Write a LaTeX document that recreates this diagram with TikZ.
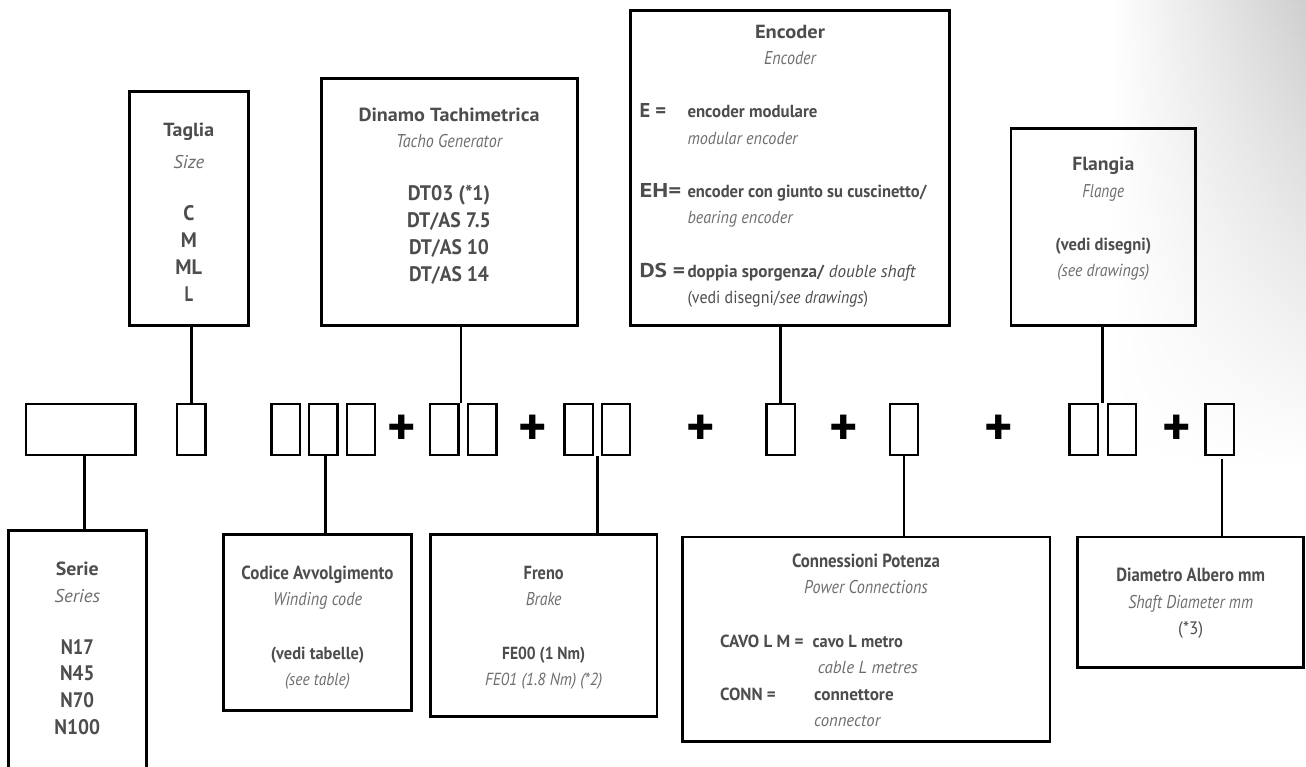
\documentclass[tikz,border=0pt]{standalone}
\usepackage{fontspec}
\setmainfont{PT Sans}
\usepackage{graphicx}
\usetikzlibrary{calc,fadings}
\definecolor{tx}{HTML}{4D4D4D}
\definecolor{ti}{HTML}{6E6E6E}
\newcommand{\fitw}[2]{\resizebox{#1pt}{\height}{#2}}
\tikzfading[name=fadedown, top color=transparent!0, middle color=transparent!15, bottom color=transparent!100]
\tikzset{
  bigbox/.style={draw=black, line width=2.6pt, anchor=north west, inner sep=0pt},
  smallbox/.style={draw=black, line width=2.3pt, anchor=north west, inner sep=0pt, minimum width=28.2pt, minimum height=51pt},
  conn/.style={line width=2.6pt},
  hd/.style={font=\fontsize{19}{21}\selectfont\bfseries, text=tx, anchor=base, inner sep=0pt},
  itx/.style={font=\fontsize{18.5}{21}\selectfont\itshape, text=ti, anchor=base, inner sep=0pt},
  det/.style={font=\fontsize{17.5}{20}\selectfont\bfseries, text=tx, anchor=base, inner sep=0pt},
  deti/.style={font=\fontsize{17.5}{20}\selectfont\itshape, text=ti, anchor=base, inner sep=0pt},
  val/.style={font=\fontsize{21}{24}\selectfont\bfseries, text=tx, anchor=base, inner sep=0pt},
  lab/.style={font=\fontsize{20}{24}\selectfont\bfseries, text=tx, anchor=base west, inner sep=0pt},
  plus/.style={font=\fontsize{54}{54}\selectfont\bfseries, text=black, inner sep=0pt, anchor=center},
}
\begin{document}
\begin{tikzpicture}[x=1pt,y=-1pt]
\useasboundingbox (0,0) rectangle (1306,767);
\clip (0,0) rectangle (1306,767);
% background gradient
\shade[left color=white, right color=black!19, path fading=fadedown] (1110,0) rectangle (1306,470);

% ---- top boxes
\node[bigbox, minimum width=119.1pt, minimum height=233.8pt] (taglia) at (128,90.3) {};
\node[bigbox, minimum width=256.4pt, minimum height=246.8pt] (dinamo) at (320,77.3) {};
\node[bigbox, minimum width=318.8pt, minimum height=314.8pt] (encoder) at (629.3,9.3) {};
\node[bigbox, minimum width=184.7pt, minimum height=197.1pt] (flangia) at (1009.7,127) {};

% ---- bottom boxes
\node[bigbox, minimum width=138.1pt, minimum height=280pt] (serie) at (7,529) {};
\node[bigbox, minimum width=187.8pt, minimum height=175.8pt] (codice) at (222.3,533.3) {};
\node[bigbox, minimum width=226.7pt, minimum height=182.4pt] (freno) at (429,533) {};
\node[bigbox, minimum width=367.7pt, minimum height=204.7pt] (potenza) at (681,535.7) {};
\node[bigbox, minimum width=226.1pt, minimum height=130.4pt] (diametro) at (1076.3,535.7) {};

% ---- code row
\node[smallbox, minimum width=109.7pt] (b0) at (24.7,403) {};
\node[smallbox] (t1) at (176,403) {};
\node[smallbox] (w1) at (270.3,403) {};
\node[smallbox] (w2) at (308,403) {};
\node[smallbox] (w3) at (345.7,403) {};
\node[smallbox] (d1) at (429,403) {};
\node[smallbox] (d2) at (467,403) {};
\node[smallbox] (k1) at (563.3,403) {};
\node[smallbox] (k2) at (600.7,403) {};
\node[smallbox] (e1) at (765.3,403) {};
\node[smallbox] (p1) at (888.7,403) {};
\node[smallbox] (f1) at (1068.3,403) {};
\node[smallbox] (f2) at (1106.7,403) {};
\node[smallbox] (s1) at (1204.3,403) {};

\node[plus] (pl1) at (401.7,430) {+};
\node[plus] (pl2) at (532.3,430) {+};
\node[plus] (pl3) at (700.7,430) {+};
\node[plus] (pl4) at (844,430) {+};
\node[plus] (pl5) at (998.3,430) {+};
\node[plus] (pl6) at (1176.3,430) {+};

% ---- connectors
\draw[conn] (t1.north |- taglia.south) -- (t1.north);
\coordinate (dj) at ($(d1.north east)+(1.5,0)$);
\draw[conn] (dj |- dinamo.south) -- (dj);
\draw[conn] (e1.north |- encoder.south) -- (e1.north);
\coordinate (fj) at ($(f1.north east)!0.5!(f2.north west)$);
\draw[conn] (fj |- flangia.south) -- (fj);
\coordinate (bj) at ($(b0.south)+(3.6,0)$);
\draw[conn] (bj) -- (bj |- serie.north);
\coordinate (wj) at ($(w2.south)+(2,0)$);
\draw[conn] (wj) -- (wj |- codice.north);
\coordinate (kj) at ($(k1.south east)!0.5!(k2.south west)$);
\draw[conn] (kj) -- (kj |- freno.north);
\draw[conn] (p1.south) -- (p1.south |- potenza.north);
\coordinate (sj) at ($(s1.south)+(2.5,3)$);
\draw[conn] (sj) -- (sj |- diametro.north);

% ---- Taglia
\node[hd] (tg1) at (188.8,136.7) {\fitw{50.7}{Taglia}};
\node[itx] (tg2) at (188.8,168.3) {\fitw{30.7}{Size}};
\node[val] (tg3) at (188.8,221) {\fitw{11}{C}};
\node[val] (tg4) at (188.8,247.7) {\fitw{16}{M}};
\node[val] (tg5) at (188.8,275) {\fitw{26.7}{ML}};
\node[val] (tg6) at (188.8,301.7) {\fitw{8.5}{L}};

% ---- Dinamo
\node[hd] (dn1) at (449,121.7) {\fitw{181}{Dinamo Tachimetrica}};
\node[itx] (dn2) at (449,148) {\fitw{106}{Tacho Generator}};
\node[val] (dn3) at (449,201) {\fitw{82.3}{DT03 (*1)}};
\node[val] (dn4) at (449,227.7) {\fitw{83.7}{DT/AS 7.5}};
\node[val] (dn5) at (449,254.3) {\fitw{80}{DT/AS 10}};
\node[val] (dn6) at (449,281) {\fitw{80}{DT/AS 14}};

% ---- Encoder
\node[hd] (en1) at (790,38.3) {\fitw{70}{Encoder}};
\node[itx] (en2) at (790,65) {\fitw{51.7}{Encoder}};
\node[lab] (en3) at (639.3,117.3) {\fitw{26.7}{E =}};
\node[det, anchor=base west] (en4) at (687.3,117.3) {\fitw{130}{encoder modulare}};
\node[deti, anchor=base west] (en5) at (687.3,144.3) {\fitw{110}{modular encoder}};
\node[lab] (en6) at (639.3,197.3) {\fitw{41.7}{EH=}};
\node[det, anchor=base west] (en7) at (687.3,197.3) {\fitw{239}{encoder con giunto su cuscinetto/}};
\node[deti, anchor=base west] (en8) at (687.3,224) {\fitw{105}{bearing encoder}};
\node[lab] (en9) at (639.3,277.7) {\fitw{45.7}{DS =}};
\node[det, anchor=base west] (en10) at (687.3,277.7) {\fitw{228.7}{doppia sporgenza/ \textmd{\itshape double shaft}}};
\node[deti, anchor=base west, text=tx, font=\fontsize{17.5}{20}\selectfont] (en11) at (687.3,303.3) {\fitw{180.7}{(vedi disegni/\textit{see drawings})}};

% ---- Flangia
\node[hd] (fl1) at (1103.3,171) {\fitw{62}{Flangia}};
\node[itx] (fl2) at (1103.3,197.3) {\fitw{41.7}{Flange}};
\node[det] (fl3) at (1103.3,250.7) {\fitw{95.7}{(vedi disegni)}};
\node[deti] (fl4) at (1103.3,276.7) {\fitw{92}{(see drawings)}};

% ---- Serie
\node[hd] (se1) at (77.3,575.7) {\fitw{43}{Serie}};
\node[itx] (se2) at (77.3,602) {\fitw{45.7}{Series}};
\node[val] (se3) at (77.3,654.7) {\fitw{33}{N17}};
\node[val] (se4) at (77.3,680.7) {\fitw{34.3}{N45}};
\node[val] (se5) at (77.3,707.3) {\fitw{33.7}{N70}};
\node[val] (se6) at (77.3,734) {\fitw{45.7}{N100}};

% ---- Codice
\node[hd] (co1) at (317.5,579) {\fitw{152}{Codice Avvolgimento}};
\node[itx] (co2) at (317.5,605.7) {\fitw{89}{Winding code}};
\node[det] (co3) at (317.5,659) {\fitw{93.3}{(vedi tabelle)}};
\node[deti] (co4) at (317.5,685.7) {\fitw{65}{(see table)}};

% ---- Freno
\node[hd] (fr1) at (543.7,579) {\fitw{40}{Freno}};
\node[itx] (fr2) at (543.7,605.7) {\fitw{35.7}{Brake}};
\node[det] (fr3) at (543.7,659.7) {\fitw{83}{FE00 (1 Nm)}};
\node[deti] (fr4) at (543.7,685.7) {\fitw{117.3}{FE01 (1.8 Nm) (*2)}};

% ---- Connessioni
\node[hd] (cp1) at (866,567) {\fitw{148}{Connessioni Potenza}};
\node[itx] (cp2) at (866,593.7) {\fitw{123.7}{Power Connections}};
\node[det, anchor=base west] (cp3) at (720,647) {\fitw{83.3}{CAVO L M =}};
\node[det, anchor=base west] (cp4) at (812.3,647) {\fitw{90.4}{cavo L metro}};
\node[deti, anchor=base west] (cp5) at (817.7,673.7) {\fitw{100}{cable L metres}};
\node[det, anchor=base west] (cp6) at (720,700.3) {\fitw{55.7}{CONN =}};
\node[det, anchor=base west] (cp7) at (814,700.3) {\fitw{79.5}{connettore}};
\node[deti, anchor=base west] (cp8) at (814,726.3) {\fitw{66}{connector}};

% ---- Diametro
\node[hd] (da1) at (1190.7,581.3) {\fitw{148.7}{Diametro Albero mm}};
\node[itx] (da2) at (1190.7,608) {\fitw{124.7}{Shaft Diameter mm}};
\node[deti, text=tx, font=\fontsize{18}{20}\selectfont] (da3) at (1190.7,634.7) {\fitw{25}{(*3)}};
\end{tikzpicture}
\end{document}
